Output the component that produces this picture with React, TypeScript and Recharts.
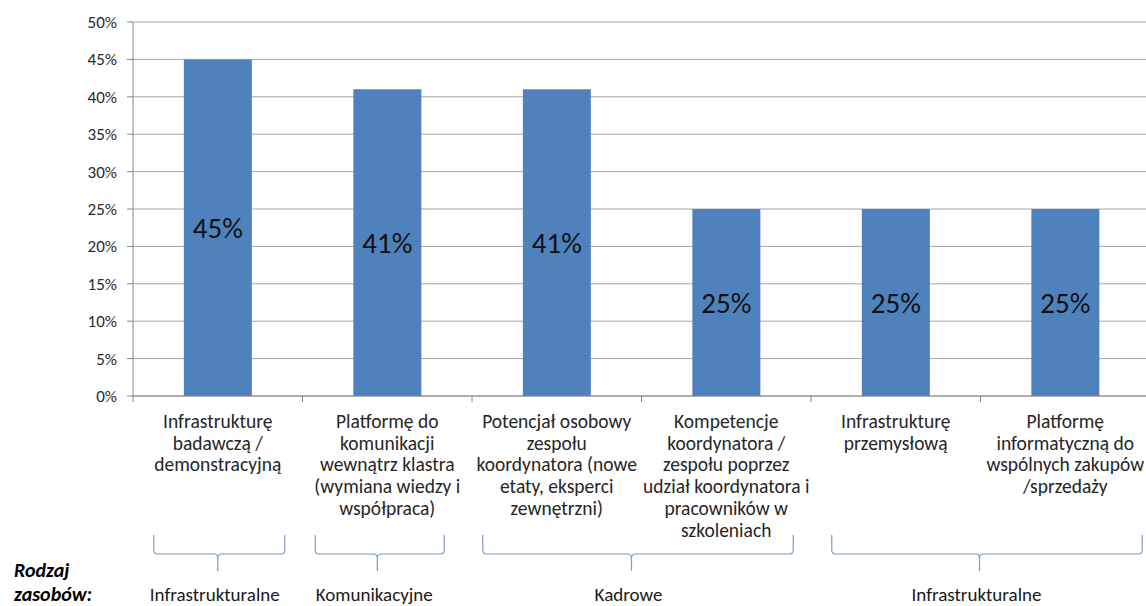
import React from "react";
import {
  BarChart,
  Bar,
  XAxis,
  YAxis,
  CartesianGrid,
  LabelList,
} from "recharts";

const categories = [
  "Infrastrukturę\nbadawczą /\ndemonstracyjną",
  "Platformę do\nkomunikacji\nwewnątrz klastra\n(wymiana wiedzy i\nwspółpraca)",
  "Potencjał osobowy\nzespołu\nkoordynatora (nowe\netaty, eksperci\nzewnętrzni)",
  "Kompetencje\nkoordynatora /\nzespołu poprzez\nudział koordynatora i\npracowników w\nszkoleniach",
  "Infrastrukturę\nprzemysłową",
  "Platformę\ninformatyczną do\nwspólnych zakupów\n/sprzedaży",
];

const shares = [45, 41, 41, 25, 25, 25];

const yTicks = [0, 5, 10, 15, 20, 25, 30, 35, 40, 45, 50];

const groupLabels = ["Infrastrukturalne", "Komunikacyjne", "Kadrowe", "Infrastrukturalne"];
const groupStart = [0, 1, 2, 4];
const groupEnd = [0, 1, 3, 5];

const data = categories.map((name, i) => ({ name, value: shares[i] }));

const FONT = "Carlito, Lato, 'Open Sans', sans-serif";
const CHART_W = 1152;
const CHART_H = 606;
const MARGIN = { top: 22, right: 2, bottom: 0, left: 0 };
const Y_W = 133;
const BAND = (CHART_W - MARGIN.left - MARGIN.right - Y_W) / categories.length;
const BRACE = "#7a9cc8";

// per group brace padding (left, right) and centre shift, from the picture
const bracePad = [
  [64, 67, 0],
  [72, 57, -10],
  [74, 67, -10],
  [64, 77, -1],
];

const CategoryTick = (props: any) => {
  const { x, y, index, payload } = props;
  const lines = String(payload.value).split("\n");
  const gi = groupStart.indexOf(index);
  let brace = null;
  if (gi >= 0) {
    const span = (groupEnd[gi] - groupStart[gi]) * BAND;
    const x1 = x - bracePad[gi][0];
    const x2 = x + span + bracePad[gi][1];
    const cx = x + span / 2 + bracePad[gi][2];
    const top = y + 139;
    const hy = y + 158;
    const r = 4;
    const d =
      `M${x1},${top} L${x1},${hy - r} Q${x1},${hy} ${x1 + r},${hy} L${cx - r},${hy} Q${cx},${hy} ${cx},${hy + r} L${cx},${hy + 17}` +
      ` M${cx},${hy + r} Q${cx},${hy} ${cx + r},${hy} L${x2 - r},${hy} Q${x2},${hy} ${x2},${hy - r} L${x2},${top}`;
    brace = (
      <g>
        <path d={d} fill="none" stroke={BRACE} strokeWidth={1.2} />
        <text
          x={cx - 3}
          y={y + 205}
          textAnchor="middle"
          fontSize={19}
          fill="#1a1a1a"
          fontFamily={FONT}
        >
          {groupLabels[gi]}
        </text>
      </g>
    );
  }
  return (
    <g>
      <line x1={x - BAND / 2} y1={y} x2={x - BAND / 2} y2={y + 6} stroke="#888" />
      <text textAnchor="middle" fontSize={19.5} fill="#262626" fontFamily={FONT}>
        {lines.map((ln, i) => (
          <tspan key={i} x={x} y={y + 32 + i * 21.7}>
            {ln}
          </tspan>
        ))}
      </text>
      {brace}
    </g>
  );
};

export default function App() {
  return (
    <div
      style={{
        position: "fixed",
        left: 0,
        top: 0,
        width: 1146,
        height: 606,
        overflow: "hidden",
        background: "#fff",
        fontFamily: FONT,
      }}
    >
      <BarChart
        width={CHART_W}
        height={CHART_H}
        data={data}
        margin={MARGIN}
        barCategoryGap="30%"
      >
        <CartesianGrid vertical={false} stroke="#a6a6a6" />
        <XAxis
          dataKey="name"
          interval={0}
          height={CHART_H - 396 - MARGIN.bottom}
          tickLine={false}
          tickSize={0}
          tickMargin={0}
          axisLine={{ stroke: "#888" }}
          tick={<CategoryTick />}
        />
        <YAxis
          width={Y_W}
          domain={[0, 50]}
          ticks={yTicks}
          interval={0}
          tickFormatter={(v: number) => `${v}%`}
          tickSize={6}
          tickMargin={10}
          axisLine={{ stroke: "#888" }}
          tickLine={{ stroke: "#888" }}
          tick={{ fontSize: 17, fill: "#2a2a2a", fontFamily: FONT }}
        />
        <Bar dataKey="value" fill="#4f81bd" isAnimationActive={false}>
          <LabelList
            dataKey="value"
            position="center"
            formatter={(v: any) => `${v}%`}
            style={{ fontSize: 29, fill: "#111", fontFamily: FONT }}
          />
        </Bar>
      </BarChart>
      <svg
        width={130}
        height={50}
        style={{ position: "absolute", left: 0, top: 556 }}
      >
        <text
          fontSize={20}
          fontWeight="bold"
          fontStyle="italic"
          fill="#000"
          fontFamily={FONT}
        >
          <tspan x={14} y={20.5}>
            Rodzaj
          </tspan>
          <tspan x={14} y={45}>
            zasobów:
          </tspan>
        </text>
      </svg>
    </div>
  );
}
